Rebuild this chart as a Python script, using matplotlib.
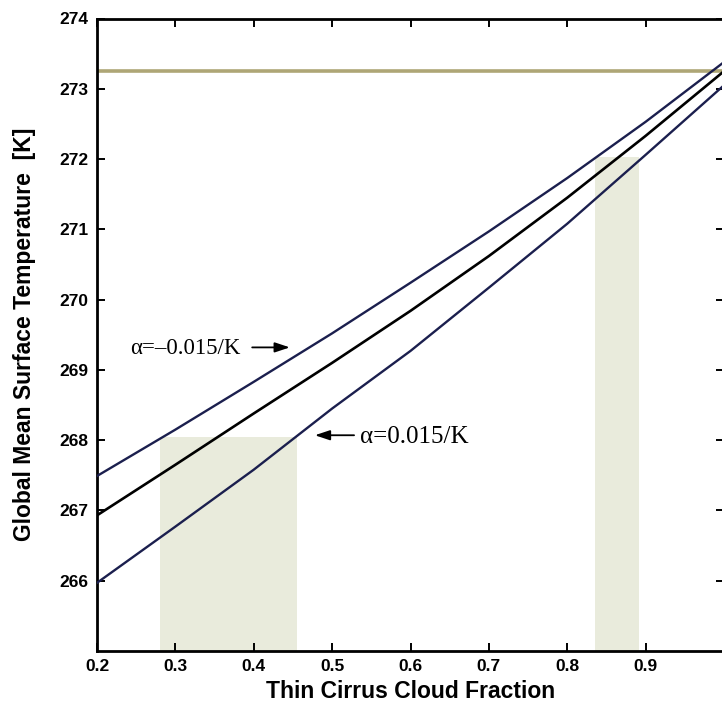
import matplotlib
matplotlib.use("Agg")
import matplotlib.pyplot as plt
from matplotlib.patches import Rectangle

# Thin cirrus cloud fraction vs. global mean surface temperature
cloud_fraction = [0.2, 0.3, 0.4, 0.5, 0.6, 0.7, 0.8, 0.9, 1.0]
temp_alpha_neg = [267.49, 268.15, 268.83, 269.52, 270.24, 270.97, 271.73, 272.53, 273.38]
temp_alpha_zero = [266.93, 267.65, 268.38, 269.10, 269.84, 270.62, 271.45, 272.33, 273.25]
temp_alpha_pos = [265.97, 266.77, 267.58, 268.45, 269.27, 270.17, 271.08, 272.06, 273.05]

freezing_temp = 273.25

# observed ranges: (x start, x end, top temperature)
band_low = (0.28, 0.455, 268.05)
band_high = (0.835, 0.892, 272.03)

x_ticks = [0.2, 0.3, 0.4, 0.5, 0.6, 0.7, 0.8, 0.9, 1.0]
x_tick_labels = ["0.2", "0.3", "0.4", "0.5", "0.6", "0.7", "0.8", "0.9", ""]
y_ticks = [266, 267, 268, 269, 270, 271, 272, 273, 274]
y_tick_labels = [str(t) for t in y_ticks]

label_neg = "α=–0.015/K"
label_pos = "α=0.015/K"

W, H = 722, 715
fig = plt.figure(figsize=(W / 100, H / 100), dpi=100)
ax = fig.add_axes([97 / W, 1 - 651 / H, (724 - 97) / W, (651 - 18.5) / H])

ax.set_xlim(0.2, 1.0)
ax.set_ylim(265, 274)

shade = "#e9ebdc"
for x0, x1, top in (band_low, band_high):
    ax.add_patch(Rectangle((x0, 265), x1 - x0, top - 265,
                           facecolor=shade, edgecolor="none", zorder=1))

ax.axhline(freezing_temp, color="#aea676", lw=2.6, zorder=2)

navy = "#1b1f4e"
ax.plot(cloud_fraction, temp_alpha_neg, color=navy, lw=1.7, zorder=3)
ax.plot(cloud_fraction, temp_alpha_zero, color="black", lw=1.9, zorder=3)
ax.plot(cloud_fraction, temp_alpha_pos, color=navy, lw=1.7, zorder=3)

serif = ["Liberation Serif", "DejaVu Serif"]
arrow = dict(arrowstyle="-|>,head_length=0.9,head_width=0.3",
             color="black", lw=1.3, shrinkA=0, shrinkB=0)

# label for the negative-feedback curve, arrow pointing right
ax.text(0.242, 269.30, label_neg, fontsize=16.5, family=serif,
        va="center", ha="left")
ax.annotate("", xy=(0.446, 269.32), xytext=(0.398, 269.32), arrowprops=arrow)

# label for the positive-feedback curve, arrow pointing left
ax.text(0.536, 268.05, label_pos, fontsize=18, family=serif,
        va="center", ha="left")
ax.annotate("", xy=(0.478, 268.07), xytext=(0.528, 268.07), arrowprops=arrow)

sans = ["Liberation Sans", "DejaVu Sans"]
ax.set_xticks(x_ticks)
ax.set_xticklabels(x_tick_labels, fontsize=12.5, fontweight="bold", family=sans)
ax.set_yticks(y_ticks)
ax.set_yticklabels(y_tick_labels, fontsize=12.5, fontweight="bold", family=sans)
ax.tick_params(direction="in", length=6, width=1.4, top=True, right=True, pad=6)

for s in ax.spines.values():
    s.set_linewidth(2)

ax.set_xlabel("Thin Cirrus Cloud Fraction", fontsize=16.5, fontweight="bold",
              family=sans, labelpad=4)
ax.set_ylabel("Global Mean Surface Temperature  [K]", fontsize=16.5,
              fontweight="bold", family=sans, labelpad=17)

fig.savefig("out.png", dpi=100)
